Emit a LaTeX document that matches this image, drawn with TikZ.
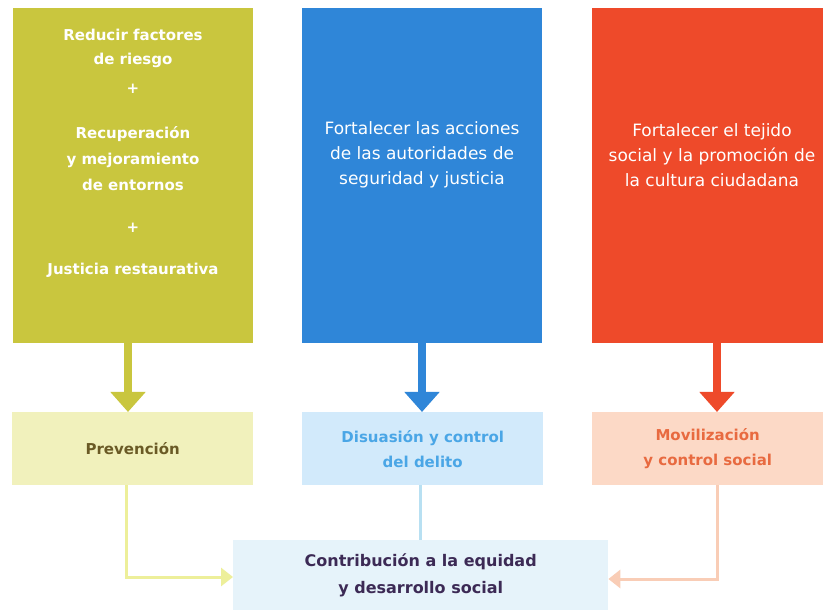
\documentclass[tikz,border=0pt]{standalone}
\usepackage{fontspec}
\setmainfont{DejaVu Sans}
\usetikzlibrary{arrows.meta}
\definecolor{olive}{HTML}{C9C63E}
\definecolor{oliveL}{HTML}{F1F1BC}
\definecolor{oliveC}{HTML}{EDEF9A}
\definecolor{oliveT}{HTML}{6A5A25}
\definecolor{blueD}{HTML}{2F86D8}
\definecolor{blueL}{HTML}{D2EAFB}
\definecolor{blueC}{HTML}{B8E0F2}
\definecolor{blueT}{HTML}{4AA6E6}
\definecolor{redD}{HTML}{EE4A2A}
\definecolor{redL}{HTML}{FCD9C6}
\definecolor{redC}{HTML}{F9CDB6}
\definecolor{redT}{HTML}{E86A40}
\definecolor{botL}{HTML}{E6F3FA}
\definecolor{botT}{HTML}{3C2A55}
\tikzset{
  topbox/.style={draw=none, minimum width=240pt, minimum height=335pt, inner sep=0pt},
  lowbox/.style={draw=none, minimum width=241pt, minimum height=73pt, inner sep=0pt, align=center, font=\bfseries\fontsize{15}{25}\selectfont},
  toptext/.style={align=center, text=white, font=\fontsize{17}{25}\selectfont},
  lefttext/.style={align=center, text=white, font=\bfseries\fontsize{15}{24}\selectfont},
  bigarrow/.style={line width=8pt, -{Triangle[width=34pt,length=20pt]}},
  thinconn/.style={line width=3pt, -{Triangle[width=18pt,length=12pt]}}
}
\begin{document}
\begin{tikzpicture}[x=1pt,y=-1pt]
\useasboundingbox (0,0) rectangle (823,612);
\fill[white] (0,0) rectangle (823,612);
% top boxes
\node[topbox, fill=olive, anchor=north west] (t1) at (13,8) {};
\node[topbox, fill=blueD, anchor=north west] (t2) at (302,8) {};
\node[topbox, fill=redD, anchor=north west, minimum width=231pt] (t3) at (592,8) {};
% texts top
\node[lefttext] (a1) at (133,48) {Reducir factores\\de riesgo};
\node[lefttext] (p1) at (133,89) {+};
\node[lefttext, font=\bfseries\fontsize{15}{26}\selectfont] (a2) at (133,159) {Recuperación\\y mejoramiento\\de entornos};
\node[lefttext] (p2) at (133,228) {+};
\node[lefttext] (a3) at (133,270) {Justicia restaurativa};
\node[toptext] (b1) at (422,155) {Fortalecer las acciones\\de las autoridades de\\seguridad y justicia};
\node[toptext] (c1) at (712,155) {Fortalecer el tejido\\social y la promoción de\\la cultura ciudadana};
% lower boxes
\node[lowbox, fill=oliveL, text=oliveT, anchor=north west] (l1) at (12,412) {Prevención};
\node[lowbox, fill=blueL, text=blueT, anchor=north west] (l2) at (302,412) {Disuasión y control\\del delito};
\node[lowbox, fill=redL, text=redT, anchor=north west, minimum width=231pt] (l3) at (592,412) {Movilización\\y control social};
% bottom box
\node[lowbox, fill=botL, text=botT, anchor=north west, minimum width=375pt, minimum height=70pt, font=\bfseries\fontsize{16}{27}\selectfont] (bot) at (233,540) {Contribución a la equidad\\y desarrollo social};
% big arrows
\draw[bigarrow, draw=olive] (t1.south -| 128,0) -- (l1.north -| 128,0);
\draw[bigarrow, draw=blueD] (t2.south -| 422,0) -- (l2.north -| 422,0);
\draw[bigarrow, draw=redD] (t3.south -| 717,0) -- (l3.north -| 717,0);
% thin connectors
\draw[thinconn, draw=oliveC] (l1.south -| 126,0) |- (bot.west |- 0,577);
\draw[line width=3pt, draw=blueC] (l2.south -| 420,0) -- (bot.north -| 420,0);
\draw[thinconn, draw=redC] (l3.south -| 717,0) |- (bot.east |- 0,579);
\end{tikzpicture}
\end{document}
